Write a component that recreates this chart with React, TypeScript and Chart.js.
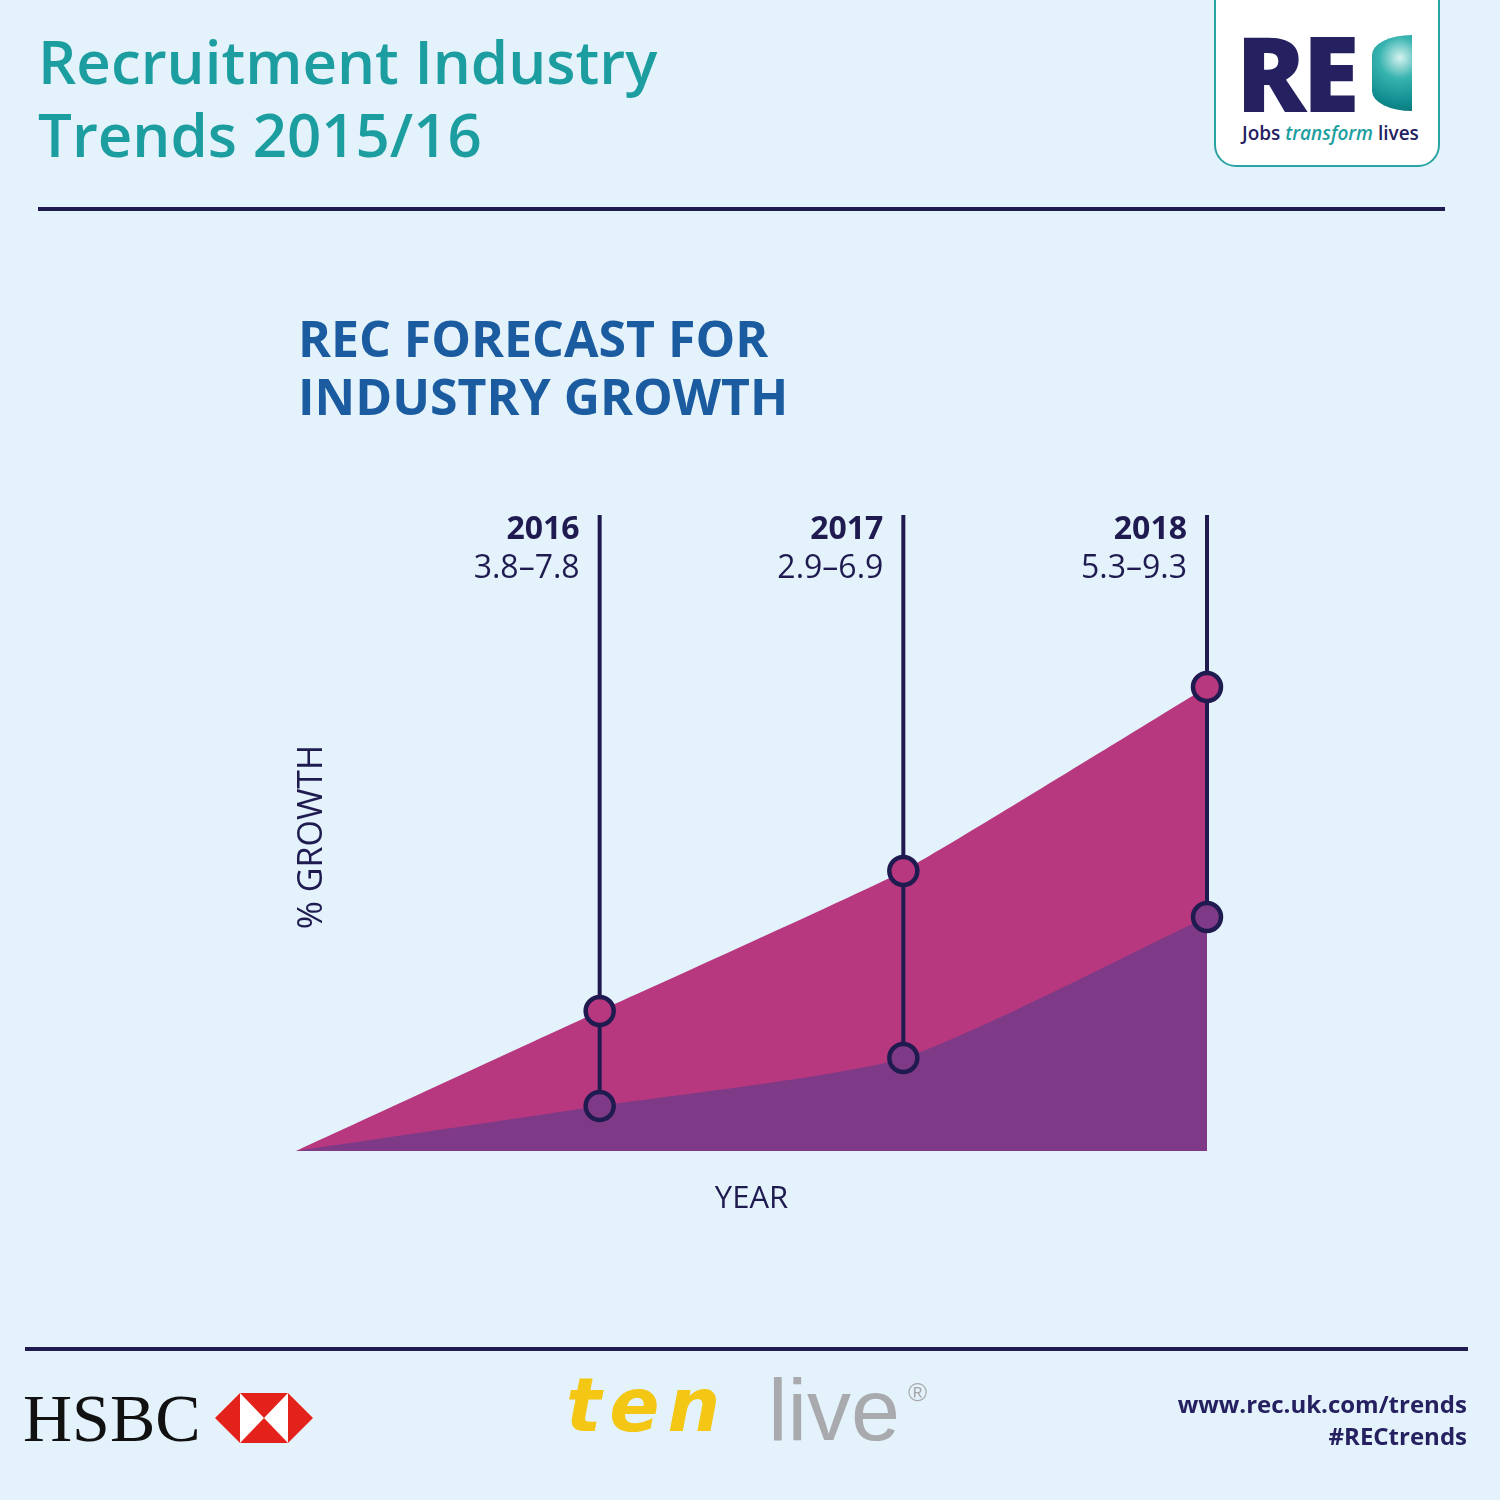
import React, { useEffect, useRef } from "react";
import { Chart, registerables } from "chart.js";

Chart.register(...registerables);

// ---- data (drawn heights; schematic growth index) ----
const YEARS = [2015, 2016, 2017, 2018];
const UPPER = [0, 14.0, 28.0, 46.4];
const LOWER = [0, 4.5, 9.3, 23.4];
const Y_TOP = 63.6;
const FORECAST_YEARS = [2016, 2017, 2018];
const RANGE_LOW = [3.8, 2.9, 5.3];
const RANGE_HIGH = [7.8, 6.9, 9.3];

const NAVY = "#1f1b50";
const PINK = "#b7387f";
const PURPLE = "#7e3a87";
const BG = "#e4f2fb";
const FONT = "'Open Sans', 'Noto Sans', sans-serif";

const labelsPlugin = {
  id: "labelsPlugin",
  afterDraw(chart: any) {
    const { ctx, chartArea, scales } = chart;
    const xs = scales.x;
    ctx.save();
    ctx.fillStyle = NAVY;
    // year labels
    FORECAST_YEARS.forEach((yr, i) => {
      const px = xs.getPixelForValue(yr) - 20;
      ctx.textAlign = "right";
      ctx.textBaseline = "alphabetic";
      ctx.font = `700 32px ${FONT}`;
      ctx.fillText(String(yr), px, chartArea.top + 24);
      ctx.font = `400 32px ${FONT}`;
      ctx.fillText(`${RANGE_LOW[i].toFixed(1)}–${RANGE_HIGH[i].toFixed(1)}`, px, chartArea.top + 63);
    });
    // axis titles
    ctx.font = `400 31px ${FONT}`;
    ctx.textAlign = "center";
    ctx.fillText("YEAR", (chartArea.left + chartArea.right) / 2, chartArea.bottom + 57);
    ctx.font = `400 34px ${FONT}`;
    ctx.translate(chartArea.left + 26, (chartArea.top + chartArea.bottom) / 2 + 4);
    ctx.rotate(-Math.PI / 2);
    ctx.textBaseline = "alphabetic";
    ctx.fillText("% GROWTH", 0, 0);
    ctx.restore();
  },
};

export default function App() {
  const ref = useRef<HTMLCanvasElement | null>(null);

  useEffect(() => {
    if (!ref.current) return;
    const pts = (ys: number[]) => YEARS.map((x, i) => ({ x, y: ys[i] }));
    const fIdx = FORECAST_YEARS.map((y) => YEARS.indexOf(y));
    const vLines = FORECAST_YEARS.map((yr, k) => ({
      type: "line" as const,
      data: [
        { x: yr, y: LOWER[fIdx[k]] },
        { x: yr, y: Y_TOP },
      ],
      borderColor: NAVY,
      borderWidth: 4,
      pointRadius: 0,
      fill: false,
      order: 1,
      clip: false as any,
    }));
    const chart = new Chart(ref.current, {
      type: "line",
      data: {
        datasets: [
          {
            data: FORECAST_YEARS.map((yr, k) => ({ x: yr, y: UPPER[fIdx[k]] })),
            showLine: false,
            pointRadius: 14,
            pointBorderWidth: 4.5,
            pointBackgroundColor: PINK,
            pointBorderColor: NAVY,
            order: 0,
            clip: false as any,
          },
          {
            data: FORECAST_YEARS.map((yr, k) => ({ x: yr, y: LOWER[fIdx[k]] })),
            showLine: false,
            pointRadius: 14,
            pointBorderWidth: 4.5,
            pointBackgroundColor: PURPLE,
            pointBorderColor: NAVY,
            order: 0,
            clip: false as any,
          },
          ...vLines,
          {
            data: pts(LOWER),
            borderWidth: 0,
            borderColor: PURPLE,
            backgroundColor: PURPLE,
            pointRadius: 0,
            fill: "origin",
            tension: 0.2,
            order: 2,
          },
          {
            data: pts(UPPER),
            borderWidth: 0,
            borderColor: PINK,
            backgroundColor: PINK,
            pointRadius: 0,
            fill: "origin",
            tension: 0.12,
            order: 3,
          },
        ] as any,
      },
      options: {
        animation: false,
        responsive: false,
        devicePixelRatio: 1,
        layout: { padding: { left: 296, right: 293, top: 515, bottom: 349 } },
        plugins: { legend: { display: false }, tooltip: { enabled: false } },
        events: [],
        scales: {
          x: { type: "linear", min: 2015, max: 2018, display: false },
          y: { type: "linear", min: 0, max: Y_TOP, display: false },
        },
      },
      plugins: [labelsPlugin],
    });
    return () => chart.destroy();
  }, []);

  const abs = (s: React.CSSProperties): React.CSSProperties => ({ position: "absolute", ...s });

  return (
    <div style={abs({ left: 0, top: 0, width: 1500, height: 1500, background: BG, overflow: "hidden", fontFamily: FONT })}>
      {/* header title */}
      <div style={abs({ left: 38, top: 25, fontSize: 60, lineHeight: "73px", fontWeight: 600, color: "#1c9ea0", whiteSpace: "nowrap" })}>
        Recruitment Industry
        <br />
        Trends 2015/16
      </div>
      {/* REC logo */}
      <div style={abs({ left: 1214, top: -24, width: 222, height: 187, background: "#fff", border: "2px solid #2aa3a3", borderRadius: 22 })} />
      <div style={abs({ left: 1236, top: 12, fontSize: 104, lineHeight: "120px", fontWeight: 800, color: "#252060", letterSpacing: -4, whiteSpace: "nowrap" })}>RE</div>
      <div
        style={abs({
          left: 1372,
          top: 35,
          width: 40,
          height: 76,
          borderRadius: "76px 0 0 76px / 38px 0 0 38px",
          background: "radial-gradient(circle at 70% 30%, #d6f2ef 0%, #37b3b0 35%, #0f8c8e 75%, #0b7174 100%)",
        })}
      />
      <div style={abs({ left: 1242, top: 120, fontSize: 19, lineHeight: "26px", fontWeight: 600, color: "#252060", whiteSpace: "nowrap" })}>
        Jobs <span style={{ fontStyle: "italic", color: "#1c9ea0" }}>transform</span> lives
      </div>
      {/* rules */}
      <div style={abs({ left: 38, top: 207, width: 1407, height: 4, background: NAVY })} />
      <div style={abs({ left: 25, top: 1347, width: 1443, height: 4, background: NAVY })} />
      {/* chart title */}
      <div style={abs({ left: 298, top: 309, fontSize: 50, lineHeight: "58px", fontWeight: 700, color: "#1b5ba0", whiteSpace: "nowrap" })}>
        REC FORECAST FOR
        <br />
        INDUSTRY GROWTH
      </div>
      <canvas ref={ref} width={1500} height={1500} style={abs({ left: 0, top: 0, width: 1500, height: 1500 })} />
      {/* footer */}
      <div style={abs({ left: 23, top: 1378, fontSize: 68, lineHeight: "80px", fontFamily: "'Liberation Serif', 'DejaVu Serif', serif", color: "#111", whiteSpace: "nowrap" })}>HSBC</div>
      <svg style={abs({ left: 215, top: 1393 })} width={98} height={50} viewBox="0 0 98 50">
        <polygon points="0,25 25,0 73,0 98,25 73,50 25,50" fill="#fff" />
        <polygon points="0,25 25,0 25,50" fill="#e3231b" />
        <polygon points="98,25 73,0 73,50" fill="#e3231b" />
        <polygon points="25,0 73,0 49,25" fill="#e3231b" />
        <polygon points="25,50 73,50 49,25" fill="#e3231b" />
      </svg>
      <div style={abs({ left: 566, top: 1355, fontSize: 74, lineHeight: "100px", fontStyle: "italic", fontWeight: 700, color: "#f3c714", letterSpacing: 8, whiteSpace: "nowrap", fontFamily: "'DejaVu Sans', sans-serif" })}>ten</div>
      <div style={abs({ left: 768, top: 1360, fontSize: 88, lineHeight: "100px", fontWeight: 400, color: "#a9aaad", whiteSpace: "nowrap", fontFamily: "'Liberation Sans', Arial, sans-serif" })}>
        live<span style={{ fontSize: 26, position: "absolute", left: 140, top: -18 }}>®</span>
      </div>
      <div style={abs({ right: 33, top: 1388, fontSize: 24, lineHeight: "32px", fontWeight: 700, color: "#252060", textAlign: "right", whiteSpace: "nowrap" })}>
        www.rec.uk.com/trends
        <br />
        #RECtrends
      </div>
    </div>
  );
}
